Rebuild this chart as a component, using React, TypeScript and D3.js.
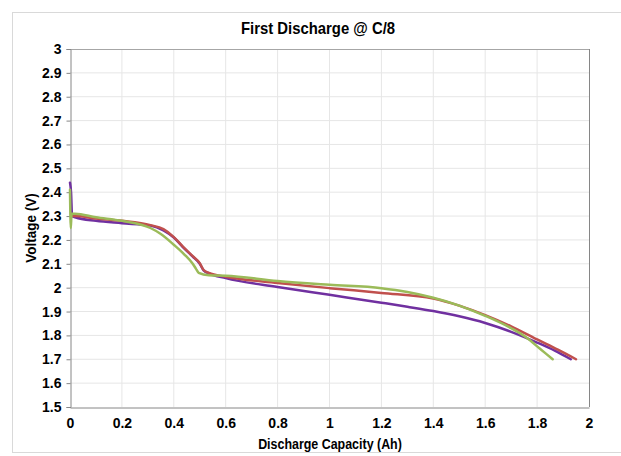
import { useEffect, useRef } from 'react';
import * as d3 from 'd3';

// capacity (Ah) / voltage (V)
const purpleCap = [0, 0.004, 0.008, 0.02, 0.1, 0.2, 0.31, 0.36, 0.4, 0.435, 0.473, 0.5, 0.515, 0.535, 0.6, 0.8, 1.0, 1.2, 1.3, 1.4, 1.5, 1.6, 1.7, 1.8, 1.87, 1.93];
const purpleV = [2.44, 2.40, 2.30, 2.295, 2.28, 2.27, 2.26, 2.24, 2.21, 2.17, 2.13, 2.10, 2.072, 2.06, 2.04, 2.003, 1.97, 1.937, 1.92, 1.902, 1.88, 1.852, 1.815, 1.77, 1.735, 1.70];

const redCap = [0.006, 0.02, 0.1, 0.2, 0.31, 0.36, 0.4, 0.435, 0.473, 0.5, 0.515, 0.535, 0.6, 0.8, 1.0, 1.2, 1.4, 1.5, 1.6, 1.7, 1.8, 1.88, 1.95];
const redV = [2.30, 2.30, 2.29, 2.28, 2.262, 2.245, 2.212, 2.172, 2.132, 2.103, 2.074, 2.062, 2.046, 2.02, 1.998, 1.978, 1.955, 1.925, 1.885, 1.838, 1.783, 1.74, 1.70];

const greenCap = [0, 0.003, 0.006, 0.01, 0.02, 0.1, 0.2, 0.31, 0.35, 0.4, 0.44, 0.473, 0.485, 0.496, 0.535, 0.6, 0.8, 1.0, 1.2, 1.3, 1.4, 1.5, 1.6, 1.7, 1.76, 1.81, 1.86];
const greenV = [2.41, 2.25, 2.31, 2.31, 2.31, 2.295, 2.28, 2.25, 2.225, 2.18, 2.14, 2.10, 2.08, 2.062, 2.052, 2.05, 2.028, 2.012, 1.998, 1.982, 1.958, 1.925, 1.882, 1.83, 1.79, 1.745, 1.70];

const seriesColors = ['#7030a0', '#c0504d', '#9bbb59'];

const xTicks = [0, 0.2, 0.4, 0.6, 0.8, 1, 1.2, 1.4, 1.6, 1.8, 2];
const yTicks = [1.5, 1.6, 1.7, 1.8, 1.9, 2, 2.1, 2.2, 2.3, 2.4, 2.5, 2.6, 2.7, 2.8, 2.9, 3];

const W = 621;
const H = 456;
const font = '"Liberation Sans", Arial, sans-serif';

export default function App() {
  const ref = useRef<SVGSVGElement>(null);

  useEffect(() => {
    const svg = d3.select(ref.current);
    svg.selectAll('*').remove();

    const left = 70, right = 589, top = 49, bottom = 407;
    const x = d3.scaleLinear().domain([0, 2]).range([left, right]);
    const y = d3.scaleLinear().domain([1.5, 3]).range([bottom, top]);

    svg.append('rect').attr('width', W).attr('height', H).attr('fill', '#fff');
    svg.append('rect')
      .attr('x', 12.5).attr('y', 12.5).attr('width', 640).attr('height', 440)
      .attr('fill', 'none').attr('stroke', '#d9d9d9');

    // grid
    const grid = svg.append('g');
    grid.selectAll('line.v').data(xTicks.slice(1, -1)).enter().append('line')
      .attr('x1', d => x(d)).attr('x2', d => x(d)).attr('y1', top).attr('y2', bottom)
      .attr('stroke', '#e6e6e6');
    grid.selectAll('line.h').data(yTicks.slice(1, -1)).enter().append('line')
      .attr('x1', left).attr('x2', right).attr('y1', d => y(d)).attr('y2', d => y(d))
      .attr('stroke', '#e6e6e6');

    // frame
    svg.append('line').attr('x1', left).attr('x2', right).attr('y1', top + 0.5).attr('y2', top + 0.5).attr('stroke', '#a6a6a6');
    svg.append('line').attr('x1', right + 0.5).attr('x2', right + 0.5).attr('y1', top).attr('y2', bottom).attr('stroke', '#868686');

    const yAxis = d3.axisLeft(y).tickValues(yTicks).tickSize(4).tickFormat(d => String(+(+d).toFixed(1)));
    const gy = svg.append('g').attr('transform', `translate(${left + 0.5},0)`).call(yAxis);
    gy.select('.domain').attr('stroke', '#868686');
    gy.selectAll('.tick line').attr('stroke', '#868686');
    gy.selectAll('.tick text').attr('font-family', font).attr('font-weight', 'bold')
      .attr('font-size', 14).attr('fill', '#000').attr('dx', -2);

    const xAxis = d3.axisBottom(x).tickValues(xTicks).tickSize(0).tickFormat(d => String(+(+d).toFixed(1)));
    const gx = svg.append('g').attr('transform', `translate(0,${bottom + 0.5})`).call(xAxis);
    gx.select('.domain').attr('stroke', '#868686');
    gx.selectAll('.tick text').attr('font-family', font).attr('font-weight', 'bold')
      .attr('font-size', 14).attr('fill', '#000').attr('dy', '1.25em');

    const line = d3.line<[number, number]>()
      .x(d => x(d[0])).y(d => y(d[1]))
      .curve(d3.curveMonotoneX);

    const series: [number[], number[]][] = [[purpleCap, purpleV], [redCap, redV], [greenCap, greenV]];
    series.forEach(([cx, vy], i) => {
      const pts = cx.map((c, j) => [c, vy[j]] as [number, number]);
      svg.append('path').datum(pts)
        .attr('d', line)
        .attr('fill', 'none')
        .attr('stroke', seriesColors[i])
        .attr('stroke-width', 2.5)
        .attr('stroke-linejoin', 'round')
        .attr('stroke-linecap', 'round');
    });

    // Titles: slightly condensed, like the narrow bold face in the original
    svg.append('text').attr('transform', 'translate(318,34) scale(0.93,1)')
      .attr('text-anchor', 'middle')
      .attr('font-family', font).attr('font-weight', 'bold').attr('font-size', 16)
      .text('First Discharge @ C/8');
    svg.append('text').attr('transform', 'translate(330,449) scale(0.83,1)')
      .attr('text-anchor', 'middle')
      .attr('font-family', font).attr('font-weight', 'bold').attr('font-size', 15)
      .text('Discharge Capacity (Ah)');
    svg.append('text').attr('transform', 'translate(36,228) rotate(-90) scale(0.9,1)')
      .attr('text-anchor', 'middle')
      .attr('font-family', font).attr('font-weight', 'bold').attr('font-size', 15)
      .text('Voltage (V)');
  }, []);

  return (
    <div style={{ position: 'absolute', left: 0, top: 0 }}>
      <svg ref={ref} width={W} height={H} style={{ display: 'block' }} />
    </div>
  );
}
